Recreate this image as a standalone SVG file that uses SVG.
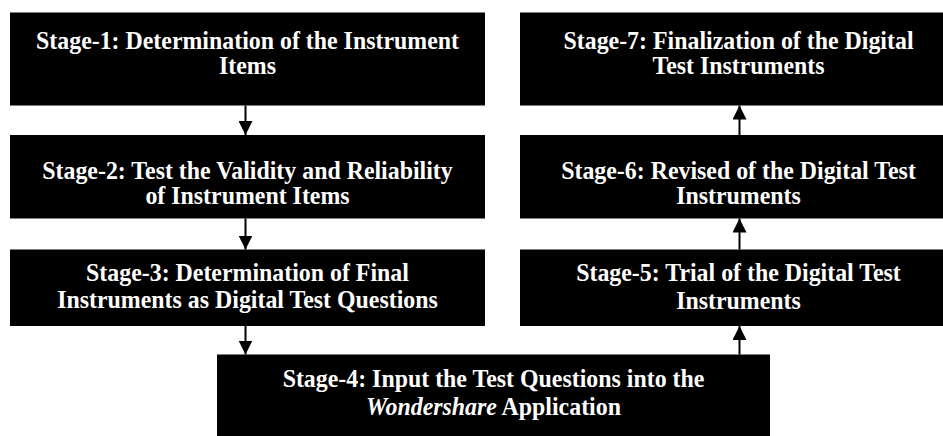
<svg xmlns="http://www.w3.org/2000/svg" width="943" height="436" viewBox="0 0 943 436">
<style>
.box{fill:#000;}
.t{fill:#fff;font-family:"Liberation Serif","Times New Roman",serif;font-weight:bold;font-size:25px;text-anchor:middle;}
.c{stroke:#000;stroke-width:2;fill:none;}
</style>
<defs>
<marker id="ah" markerUnits="userSpaceOnUse" markerWidth="14" markerHeight="14" refX="14" refY="7" orient="auto" viewBox="0 0 14 14">
<path d="M0,0 L14,7 L0,14 z" fill="#000"/>
</marker>
</defs>
<rect width="943" height="436" fill="#fff"/>
<g id="stage1">
<rect class="box" x="10" y="12.5" width="475" height="93"/>
<g transform="translate(247.5 0) scale(0.955 1)">
<text class="t" x="0" y="49.5">Stage-1: Determination of the Instrument</text>
<text class="t" x="0" y="74.5">Items</text>
</g>
</g>
<g id="stage2">
<rect class="box" x="10" y="135" width="475" height="83.5"/>
<g transform="translate(247.5 0) scale(0.955 1)">
<text class="t" x="0" y="179">Stage-2: Test the Validity and Reliability</text>
<text class="t" x="0" y="204.5">of Instrument Items</text>
</g>
</g>
<g id="stage3">
<rect class="box" x="10" y="249.5" width="475" height="76.5"/>
<g transform="translate(247.5 0) scale(0.955 1)">
<text class="t" x="0" y="281.5">Stage-3: Determination of Final</text>
<text class="t" x="0" y="308">Instruments as Digital Test Questions</text>
</g>
</g>
<g id="stage4">
<rect class="box" x="217" y="354.5" width="553" height="81.5"/>
<g transform="translate(493.5 0) scale(0.955 1)">
<text class="t" x="0" y="387">Stage-4: Input the Test Questions into the</text>
<text class="t" x="0" y="415"><tspan font-style="italic">Wondershare</tspan> Application</text>
</g>
</g>
<g id="stage5">
<rect class="box" x="520" y="249.5" width="423" height="76.5"/>
<g transform="translate(738.5 0) scale(0.955 1)">
<text class="t" x="0" y="281.5">Stage-5: Trial of the Digital Test</text>
<text class="t" x="0" y="309">Instruments</text>
</g>
</g>
<g id="stage6">
<rect class="box" x="520" y="135" width="423" height="83.5"/>
<g transform="translate(738.5 0) scale(0.955 1)">
<text class="t" x="0" y="179">Stage-6: Revised of the Digital Test</text>
<text class="t" x="0" y="204.5">Instruments</text>
</g>
</g>
<g id="stage7">
<rect class="box" x="520" y="12.5" width="423" height="93"/>
<g transform="translate(738.5 0) scale(0.955 1)">
<text class="t" x="0" y="49.5">Stage-7: Finalization of the Digital</text>
<text class="t" x="0" y="74.5">Test Instruments</text>
</g>
</g>
<g id="connectors">
<line class="c" x1="245.5" y1="105.5" x2="245.5" y2="135" marker-end="url(#ah)"/>
<line class="c" x1="245.5" y1="218.5" x2="245.5" y2="249.5" marker-end="url(#ah)"/>
<line class="c" x1="245.5" y1="326" x2="245.5" y2="354.5" marker-end="url(#ah)"/>
<line class="c" x1="739.5" y1="354.5" x2="739.5" y2="326" marker-end="url(#ah)"/>
<line class="c" x1="739.5" y1="249.5" x2="739.5" y2="218.5" marker-end="url(#ah)"/>
<line class="c" x1="739.5" y1="135" x2="739.5" y2="105.5" marker-end="url(#ah)"/>
</g>
</svg>
